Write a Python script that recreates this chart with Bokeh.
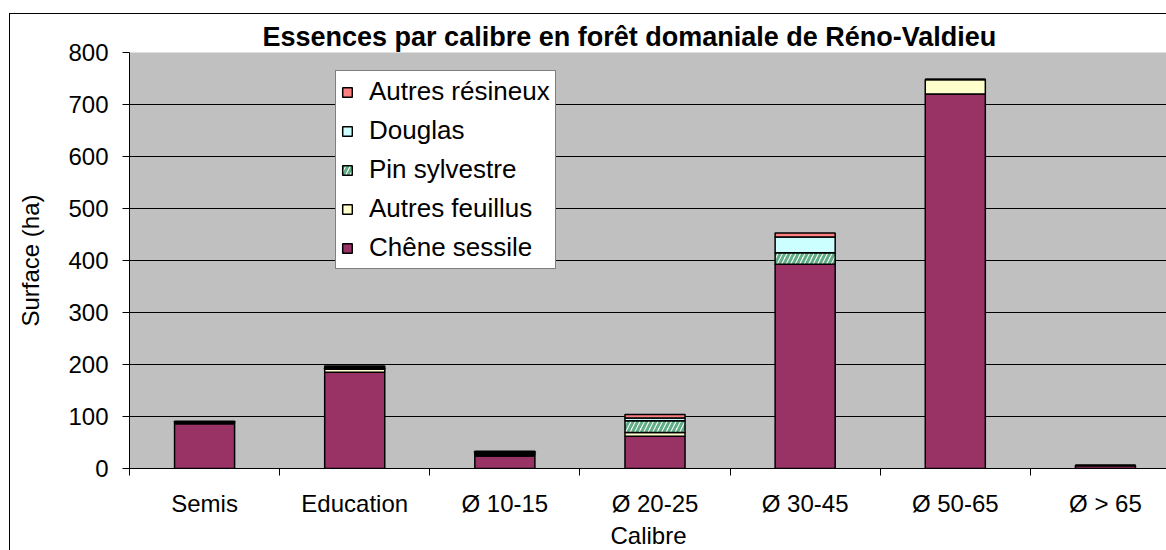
from bokeh.plotting import figure
from bokeh.models import ColumnDataSource, Range1d, FixedTicker, Legend, LegendItem
from bokeh.transform import stack
from bokeh.embed import file_html
from bokeh.resources import INLINE

categories = ["Semis", "Education", "Ø 10-15", "Ø 20-25", "Ø 30-45", "Ø 50-65", "Ø > 65"]
chene_sessile = [86, 185, 24, 62, 393, 720, 6]
autres_feuillus = [3, 6, 3, 7, 0, 28, 0]
pin_sylvestre = [0, 2, 2, 23, 22, 0, 0]
douglas = [0, 2, 2, 5, 30, 0, 0]
autres_resineux = [2, 2, 2, 7, 8, 0, 0]

series_names = ["Chêne sessile", "Autres feuillus", "Pin sylvestre", "Douglas", "Autres résineux"]
series_keys = ["chene", "feuillus", "pin", "douglas", "resineux"]
series_colors = ["#993366", "#FFFFCC", "#FFFFFF", "#CCFFFF", "#FF8080"]

xs = list(range(len(categories)))
source = ColumnDataSource(dict(
    x=xs,
    chene=chene_sessile,
    feuillus=autres_feuillus,
    pin=pin_sylvestre,
    douglas=douglas,
    resineux=autres_resineux,
))

FONT = "Liberation Sans"

p = figure(
    width=1157, height=537,
    output_backend="svg", toolbar_location=None,
    x_range=Range1d(-0.5, -0.5 + 1037 / 150),
    y_range=Range1d(0, 800),
    min_border_left=119, min_border_right=0, min_border_top=38, min_border_bottom=83,
    background_fill_color="#C0C0C0", border_fill_color="white",
    outline_line_color=None,
    margin=(13, 0, 0, 9),
    styles={"border-left": "1px solid black", "border-top": "1px solid black"},
)

p.title.text = "Essences par calibre en forêt domaniale de Réno-Valdieu"
p.title.align = "left"
p.title.offset = 133
p.title.text_font = FONT
p.title.text_font_size = "27px"
p.title.text_font_style = "bold"
p.title.text_color = "black"
p.title.standoff = 2

renderers = []
for i, key in enumerate(series_keys):
    kw = dict(fill_color=series_colors[i], line_color="black", line_width=1.5)
    if key == "pin":
        kw.update(hatch_pattern="/", hatch_color="#5FAE85", hatch_weight=3, hatch_scale=9)
    r = p.vbar(x="x", width=0.4,
               bottom=stack(*series_keys[:i]), top=stack(*series_keys[:i + 1]),
               source=source, **kw)
    renderers.append(r)

# axes
p.xaxis.ticker = FixedTicker(ticks=xs, minor_ticks=[x - 0.5 for x in xs] + [len(xs) - 0.5])
p.xaxis.major_label_overrides = {i: c for i, c in enumerate(categories)}
p.xaxis.major_tick_out = 0
p.xaxis.major_tick_in = 0
p.xaxis.minor_tick_out = 7
p.xaxis.minor_tick_in = 0
p.xaxis.minor_tick_line_color = "black"
p.xaxis.axis_label = "Calibre"
p.xaxis.major_label_standoff = 14
p.xaxis.axis_label_standoff = 2

p.yaxis.ticker = FixedTicker(ticks=list(range(0, 801, 100)))
p.yaxis.major_tick_out = 7
p.yaxis.major_tick_in = 0
p.yaxis.minor_tick_out = 0
p.yaxis.minor_tick_in = 0
p.yaxis.axis_label = "Surface (ha)"
p.yaxis.major_label_standoff = 14
p.yaxis.axis_label_standoff = 21

for ax in (p.xaxis, p.yaxis):
    ax.axis_line_color = "black"
    ax.major_tick_line_color = "black"
    ax.major_label_text_font = FONT
    ax.major_label_text_font_size = "24px"
    ax.major_label_text_color = "black"
    ax.axis_label_text_font = FONT
    ax.axis_label_text_font_size = "24px"
    ax.axis_label_text_font_style = "normal"
    ax.axis_label_text_color = "black"

p.xgrid.visible = False
p.ygrid.ticker = FixedTicker(ticks=list(range(100, 801, 100)))
p.ygrid.grid_line_color = "black"
p.ygrid.grid_line_width = 1

items = [LegendItem(label=series_names[i], renderers=[renderers[i]]) for i in reversed(range(5))]
legend = Legend(
    items=items, location=(206, 199),
    label_text_font=FONT, label_text_font_size="26px", label_text_color="black",
    glyph_width=12, glyph_height=12, label_height=27, spacing=8,
    padding=5, margin=0,
    border_line_color="black", border_line_width=1,
    background_fill_color="white", background_fill_alpha=1,
    label_standoff=16,
)
p.add_layout(legend, "center")

open("out.html", "w").write(file_html(p, INLINE))
